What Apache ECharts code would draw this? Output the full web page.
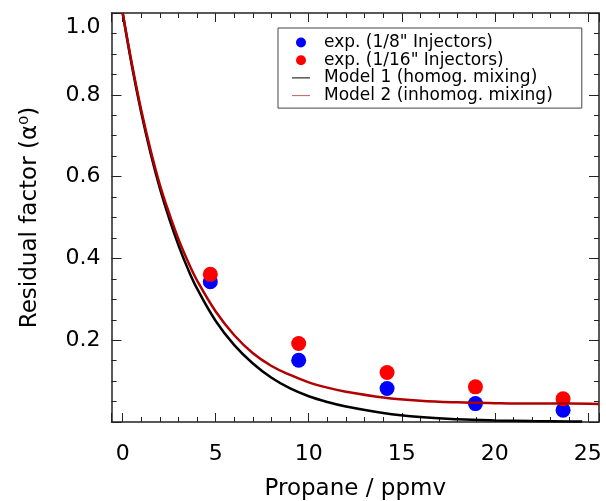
<!DOCTYPE html>
<html>
<head>
<meta charset="utf-8">
<script src="https://cdn.jsdelivr.net/npm/echarts@6/dist/echarts.min.js"></script>
<style>
html,body{margin:0;padding:0;background:#fff;}
#chart{width:606px;height:501px;}
</style>
</head>
<body>
<div id="chart"></div>
<script>
// Experimental points
const propaneExp = [4.71, 9.46, 14.21, 18.96, 23.67];
const alphaInj8 = [0.343, 0.151, 0.082, 0.045, 0.029];
const alphaInj16 = [0.361, 0.192, 0.121, 0.086, 0.057];

// Model curves
const model1X = [0, 0.5, 1, 1.5, 2, 2.5, 3, 3.5, 4, 5, 6, 7, 8, 9, 10, 11, 12, 14, 16, 18, 20, 22, 24, 24.7];
const model1Y = [1.0, 0.87, 0.756, 0.657, 0.571, 0.497, 0.432, 0.375, 0.326, 0.247, 0.188, 0.143, 0.108, 0.082, 0.063, 0.049, 0.038, 0.022, 0.012, 0.0068, 0.0039, 0.0022, 0.0013, 0.001];
const model2X = [0, 0.5, 1, 1.5, 2, 2.5, 3, 3.5, 4, 5, 6, 7, 8, 9, 10, 11, 12, 14, 16, 18, 20, 22, 24, 25.6];
const model2Y = [1.0, 0.875, 0.762, 0.665, 0.58, 0.51, 0.447, 0.393, 0.346, 0.27, 0.212, 0.168, 0.137, 0.115, 0.097, 0.084, 0.074, 0.06, 0.052, 0.048, 0.046, 0.045, 0.045, 0.044];

const seriesNames = ['exp. (1/8" Injectors)', 'exp. (1/16" Injectors)', 'Model 1 (homog. mixing)', 'Model 2 (inhomog. mixing)'];
const xName = 'Propane / ppmv';
const yName = 'Residual factor (α⁰)';

const FONT = 'DejaVu Sans';
const zip = (xs, ys) => xs.map((x, i) => [x, ys[i]]);

const chart = echarts.init(document.getElementById('chart'), null, {renderer: 'canvas'});

const axisLineStyle = {color: '#222', width: 1.5};
const xBase = {
  type: 'value', min: -0.6, max: 25.6, splitNumber: 5,
  splitLine: {show: false},
  axisLine: {show: true, onZero: false, lineStyle: axisLineStyle},
  axisTick: {show: true, inside: true, length: 9, lineStyle: {color: '#222', width: 1}},
  minorTick: {show: true, splitNumber: 5, length: 5, lineStyle: {color: '#222', width: 1}}
};
const yBase = {
  type: 'value', min: 0, max: 1.0, interval: 0.2,
  splitLine: {show: false},
  axisLine: {show: true, onZero: false, lineStyle: axisLineStyle},
  axisTick: {show: true, inside: true, length: 10, lineStyle: {color: '#222', width: 1}},
  minorTick: {show: true, splitNumber: 4, length: 5, lineStyle: {color: '#222', width: 1}}
};

const lineIcon = 'path://M0,0H18V1H0Z';

const option = {
  backgroundColor: '#fff',
  animation: false,
  grid: {left: 111.5, right: 7, top: 13, bottom: 79, containLabel: false, outerBoundsMode: 'none'},
  legend: {
    orient: 'vertical', left: 278, top: 28,
    padding: [6, 29, 4, 14],
    itemGap: 0.7, itemWidth: 18, itemHeight: 10,
    borderColor: '#444', borderWidth: 1, backgroundColor: '#fff',
    textStyle: {fontFamily: FONT, fontSize: 17, color: '#000', padding: [0, 0, 0, 9], lineHeight: 17},
    data: [
      {name: seriesNames[0], icon: 'circle'},
      {name: seriesNames[1], icon: 'circle'},
      {name: seriesNames[2], icon: lineIcon, itemStyle: {color: '#000'}},
      {name: seriesNames[3], icon: lineIcon, itemStyle: {color: '#c85a5a'}}
    ]
  },
  xAxis: [
    Object.assign({}, xBase, {
      position: 'bottom',
      name: xName, nameLocation: 'middle', nameGap: 56,
      nameTextStyle: {fontFamily: FONT, fontSize: 23, color: '#000'},
      axisLabel: {
        show: true, margin: 21, fontFamily: FONT, fontSize: 22, color: '#000',
        formatter: v => (Math.abs(v / 5 - Math.round(v / 5)) < 1e-6 ? String(Math.round(v)) : '')
      }
    }),
    Object.assign({}, xBase, {position: 'top', axisLabel: {show: false}})
  ],
  yAxis: [
    Object.assign({}, yBase, {
      position: 'left',
      name: yName, nameLocation: 'middle', nameGap: 70,
      nameTextStyle: {fontFamily: FONT, fontSize: 23, color: '#000'},
      axisLabel: {
        show: true, margin: 11, fontFamily: FONT, fontSize: 22, color: '#000',
        formatter: v => (v === 0 ? '' : (Math.abs(v - 1) < 1e-9 ? '{top|' + v.toFixed(1) + '}' : v.toFixed(1))),
        rich: {top: {fontFamily: FONT, fontSize: 22, color: '#000', padding: [28, 0, 0, 0]}}
      }
    }),
    Object.assign({}, yBase, {position: 'right', axisLabel: {show: false}})
  ],
  series: [
    {
      name: seriesNames[0], type: 'scatter', xAxisIndex: 0, yAxisIndex: 0,
      symbol: 'circle', symbolSize: 15, itemStyle: {color: '#0000ff', opacity: 1},
      data: zip(propaneExp, alphaInj8), z: 2
    },
    {
      name: seriesNames[1], type: 'scatter', xAxisIndex: 0, yAxisIndex: 0,
      symbol: 'circle', symbolSize: 15, itemStyle: {color: '#ff0000', opacity: 1},
      data: zip(propaneExp, alphaInj16), z: 3
    },
    {
      name: seriesNames[2], type: 'line', xAxisIndex: 0, yAxisIndex: 0,
      showSymbol: false, symbol: 'none', smooth: 0.4,
      lineStyle: {color: '#000', width: 2.5}, itemStyle: {color: '#000'},
      data: zip(model1X, model1Y), z: 4
    },
    {
      name: seriesNames[3], type: 'line', xAxisIndex: 0, yAxisIndex: 0,
      showSymbol: false, symbol: 'none', smooth: 0.4,
      lineStyle: {color: '#b00000', width: 2.5}, itemStyle: {color: '#b00000'},
      data: zip(model2X, model2Y), z: 5
    }
  ]
};
chart.setOption(option);
</script>
</body>
</html>
